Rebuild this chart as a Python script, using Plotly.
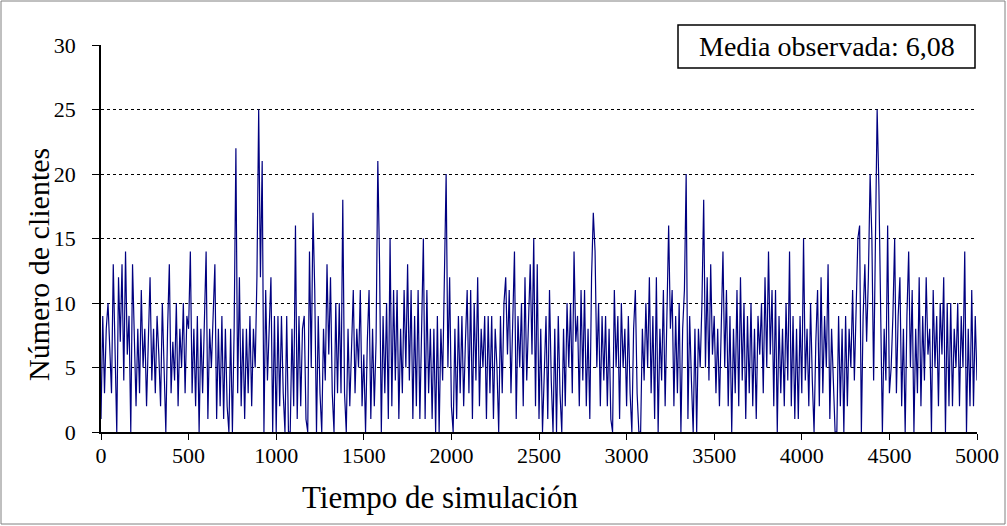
import plotly.graph_objects as go

# x positions every 10 time units, in 500-unit segments
seg0 = [1, 9, 3, 8, 10, 6, 3, 13, 5, 0, 12, 7, 13, 4, 14, 6, 9, 0, 13, 7, 2, 8, 3, 11, 5, 8, 2, 7, 12, 4,
        8, 3, 9, 6, 2, 10, 5, 0, 8, 13, 3, 7, 4, 10, 2, 8, 5, 10, 3, 9]
seg1 = [8, 14, 3, 8, 2, 9, 0, 8, 3, 8, 14, 1, 8, 5, 9, 13, 1, 8, 2, 9, 1, 8, 2, 0, 8, 0, 8, 22, 3, 12,
        2, 8, 1, 8, 3, 9, 2, 8, 5, 12, 25, 12, 21, 0, 11, 4, 8, 12, 0, 9]
seg2 = [0, 9, 2, 9, 3, 0, 9, 0, 0, 8, 2, 16, 1, 9, 2, 8, 9, 1, 0, 14, 5, 17, 11, 0, 9, 3, 0, 8, 4, 13,
        6, 12, 3, 0, 10, 3, 10, 3, 18, 3, 0, 8, 2, 6, 11, 3, 8, 5, 11, 2]
seg3 = [6, 0, 7, 11, 1, 8, 2, 7, 21, 13, 0, 9, 3, 10, 1, 15, 2, 11, 4, 11, 1, 8, 3, 11, 5, 13, 4, 11, 1, 9,
        2, 11, 1, 8, 15, 1, 11, 3, 8, 1, 8, 0, 9, 0, 8, 4, 14, 20, 5, 12]
seg4 = [2, 0, 8, 1, 9, 3, 9, 2, 7, 11, 3, 11, 1, 10, 4, 12, 2, 8, 5, 9, 1, 9, 3, 9, 1, 8, 5, 0, 9, 3,
        10, 12, 6, 11, 3, 9, 14, 1, 9, 5, 10, 2, 12, 4, 9, 13, 6, 15, 2, 13]
seg5 = [1, 8, 0, 5, 9, 1, 11, 4, 0, 8, 0, 9, 3, 0, 8, 2, 10, 5, 10, 3, 14, 7, 9, 2, 11, 4, 11, 2, 8, 1,
        12, 17, 14, 5, 10, 2, 9, 4, 9, 2, 8, 1, 0, 11, 5, 9, 1, 10, 5, 8]
seg6 = [2, 9, 3, 0, 8, 11, 3, 0, 0, 8, 4, 10, 5, 12, 3, 9, 1, 12, 0, 8, 4, 11, 2, 9, 16, 8, 11, 2, 9, 3,
        10, 0, 8, 11, 20, 1, 9, 4, 0, 8, 0, 8, 5, 10, 18, 5, 12, 4, 13, 6]
seg7 = [9, 3, 8, 2, 7, 14, 5, 11, 2, 9, 0, 8, 3, 11, 2, 12, 4, 10, 1, 9, 3, 10, 2, 8, 1, 9, 6, 10, 3, 12,
        5, 14, 6, 11, 2, 11, 0, 9, 3, 8, 2, 10, 4, 14, 2, 9, 1, 8, 1, 9]
seg8 = [3, 15, 4, 8, 2, 10, 4, 0, 7, 11, 2, 12, 3, 9, 5, 13, 1, 8, 4, 0, 0, 9, 2, 8, 0, 9, 2, 8, 5, 11,
        4, 11, 15, 16, 0, 9, 13, 7, 12, 20, 15, 4, 17, 25, 19, 8, 0, 8, 4, 16]
seg9 = [3, 5, 9, 15, 3, 9, 12, 2, 8, 0, 9, 14, 5, 11, 0, 8, 3, 12, 2, 9, 4, 12, 6, 8, 0, 11, 5, 9, 2, 10,
        6, 12, 0, 10, 2, 10, 2, 8, 5, 10, 2, 9, 5, 14, 0, 8, 2, 11, 2, 9, 4]

clientes = seg0 + seg1 + seg2 + seg3 + seg4 + seg5 + seg6 + seg7 + seg8 + seg9
tiempo = [10 * i for i in range(len(clientes))]

x_ticks = [0, 500, 1000, 1500, 2000, 2500, 3000, 3500, 4000, 4500, 5000]
y_ticks = [0, 5, 10, 15, 20, 25, 30]
annot_text = "Media observada: 6,08"
x_title = "Tiempo de simulación"
y_title = "Número de clientes"

W, H = 1007, 526
L, R, T, B = 101, 30, 45, 94
pw, ph = W - L - R, H - T - B

def px_x(px):
    return (px - L) / pw

def px_y(py):
    return (H - B - py) / ph

fig = go.Figure()
fig.add_trace(go.Scatter(x=tiempo, y=clientes, mode="lines",
                         line=dict(color="#000080", width=1.2), showlegend=False))

font = "Liberation Serif, Times New Roman, serif"
fig.update_layout(
    width=W, height=H,
    margin=dict(l=L, r=R, t=T, b=B, pad=0),
    paper_bgcolor="white", plot_bgcolor="white",
    font=dict(family=font, color="black", size=22),
    xaxis=dict(range=[0, 5000], tickvals=x_ticks, ticks="outside", ticklen=6,
               tickcolor="black", showgrid=False, zeroline=False, showline=True,
               linecolor="black", linewidth=1.5, automargin=False,
               ticklabelstandoff=-3,
               tickfont=dict(size=22, family=font)),
    yaxis=dict(range=[0, 30], tickvals=y_ticks, ticks="outside", ticklen=7,
               tickcolor="black", showgrid=True, gridcolor="black", griddash="dot", gridwidth=1,
               zeroline=False, showline=True, linecolor="black", linewidth=1.5, automargin=False,
               ticklabelstandoff=12,
               tickfont=dict(size=22, family=font)),
)

# outer chart border
fig.add_shape(type="rect", xref="paper", yref="paper",
              x0=px_x(1), x1=px_x(1005), y0=px_y(524), y1=px_y(1),
              line=dict(color="#808080", width=1), fillcolor="rgba(0,0,0,0)", layer="above")
# annotation box
fig.add_shape(type="rect", xref="paper", yref="paper",
              x0=px_x(678), x1=px_x(975), y0=px_y(68), y1=px_y(25),
              line=dict(color="black", width=1.5), fillcolor="white", layer="above")
fig.add_annotation(x=px_x(826.5), y=px_y(46.5), xref="paper", yref="paper",
                   text=annot_text, showarrow=False, xanchor="center", yanchor="middle",
                   font=dict(size=28, family=font, color="black"))
# axis titles
fig.add_annotation(x=px_x(440), y=px_y(497), xref="paper", yref="paper",
                   text=x_title, showarrow=False, xanchor="center", yanchor="middle",
                   font=dict(size=31, family=font, color="black"))
fig.add_annotation(x=px_x(38), y=px_y(265), xref="paper", yref="paper",
                   text=y_title, showarrow=False, xanchor="center", yanchor="middle",
                   textangle=-90, font=dict(size=30, family=font, color="black"))

fig.write_html("out.html", config={"displayModeBar": False},
               post_script="document.body.style.margin='0';document.body.style.padding='0';")
